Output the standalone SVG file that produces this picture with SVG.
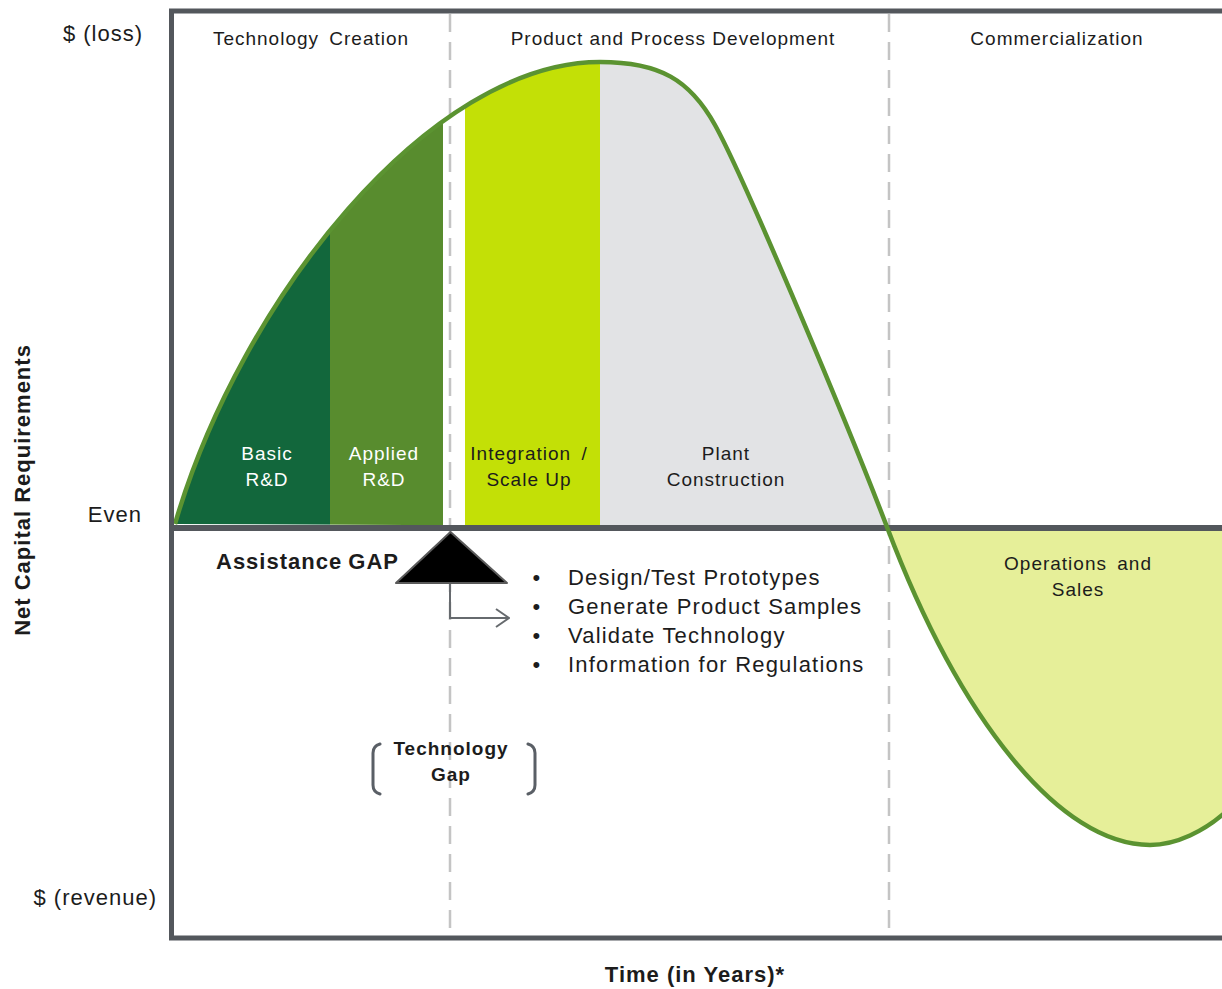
<svg xmlns="http://www.w3.org/2000/svg" width="1222" height="989" viewBox="0 0 1222 989">
  <style>
    .t { font-family: "Liberation Sans", Arial, sans-serif; fill: #1c1c1c; letter-spacing: 1px; }
    .hd { font-size: 19px; text-anchor: middle; }
    .ax { font-size: 22px; }
    .lb { font-size: 19px; text-anchor: middle; }
    .wh { fill: #ffffff; }
    .bl { font-size: 22px; letter-spacing: 1.2px; }
    .bd { font-weight: bold; }
    .dash { stroke: #c4c4c4; stroke-width: 2.5; stroke-dasharray: 18 10; fill: none; }
    .brk { stroke: #5a5f66; stroke-width: 3; fill: none; stroke-linecap: round; }
  </style>
  <defs>
    <clipPath id="upperLobe">
      <path d="M175,524 C240,300 430,62 600,62 C660,62 690,80 715,125 C745,179 850,430 887,527 Z"/>
    </clipPath>
    <marker id="chev" viewBox="0 0 16 22" refX="15" refY="11" markerWidth="16" markerHeight="22" markerUnits="userSpaceOnUse" orient="auto">
      <path d="M2,2 L15,11 L2,20" fill="none" stroke="#666a6e" stroke-width="2"/>
    </marker>
  </defs>

  <rect x="0" y="0" width="1222" height="989" fill="#ffffff"/>

  <!-- phase dividers -->
  <g id="dividers">
    <line class="dash" x1="450" y1="14" x2="450" y2="932"/>
    <line class="dash" x1="889" y1="14" x2="889" y2="932"/>
  </g>

  <!-- stage areas under the capital curve -->
  <g id="stage-basic" clip-path="url(#upperLobe)">
    <rect x="171" y="0" width="159" height="526" fill="#12673c"/>
  </g>
  <g id="stage-applied" clip-path="url(#upperLobe)">
    <rect x="330" y="0" width="113" height="526" fill="#588c2e"/>
  </g>
  <g id="stage-integration" clip-path="url(#upperLobe)">
    <rect x="465" y="0" width="135" height="526" fill="#c3e006"/>
  </g>
  <g id="stage-plant" clip-path="url(#upperLobe)">
    <rect x="600" y="0" width="292" height="526" fill="#e2e3e5"/>
  </g>
  <g id="stage-operations">
    <path d="M887,527 C960,720 1060,845 1150,845 C1175,845 1205,832 1230,808 L1230,527 Z" fill="#e6ef99"/>
  </g>

  <!-- break-even axis -->
  <line x1="171" y1="528" x2="1222" y2="528" stroke="#53575c" stroke-width="6"/>

  <!-- net capital curve -->
  <path d="M175,524 C240,300 430,62 600,62 C660,62 690,80 715,125 C745,179 850,430 887,527 C960,720 1060,845 1150,845 C1175,845 1205,832 1230,808" fill="none" stroke="#5b9331" stroke-width="4.5"/>

  <!-- chart frame -->
  <path d="M1224,11 H171.5 V938 H1224" fill="none" stroke="#53575c" stroke-width="5"/>

  <!-- phase headers -->
  <g id="phase-technology-creation">
    <text class="t hd" x="311" y="45" word-spacing="4">Technology Creation</text>
  </g>
  <g id="phase-product-development">
    <text class="t hd" x="673" y="45">Product and Process Development</text>
  </g>
  <g id="phase-commercialization">
    <text class="t hd" x="1057" y="45">Commercialization</text>
  </g>

  <!-- axis labels -->
  <g id="axis-labels">
    <text class="t ax" x="143" y="41" text-anchor="end">$ (loss)</text>
    <text class="t ax" x="142" y="522" text-anchor="end">Even</text>
    <text class="t ax" x="157" y="905" text-anchor="end">$ (revenue)</text>
    <text class="t ax bd" x="0" y="0" text-anchor="middle" transform="translate(30,490) rotate(-90)">Net Capital Requirements</text>
    <text class="t ax bd" x="695" y="982" text-anchor="middle">Time (in Years)*</text>
  </g>

  <!-- stage labels -->
  <g id="label-basic">
    <text class="t lb wh" x="267" y="460">Basic</text>
    <text class="t lb wh" x="267" y="486">R&amp;D</text>
  </g>
  <g id="label-applied">
    <text class="t lb wh" x="384" y="460">Applied</text>
    <text class="t lb wh" x="384" y="486">R&amp;D</text>
  </g>
  <g id="label-integration">
    <text class="t lb" x="529" y="460" word-spacing="4">Integration /</text>
    <text class="t lb" x="529" y="486">Scale Up</text>
  </g>
  <g id="label-plant">
    <text class="t lb" x="726" y="460">Plant</text>
    <text class="t lb" x="726" y="486">Construction</text>
  </g>
  <g id="label-operations">
    <text class="t lb" x="1078" y="570" word-spacing="4">Operations and</text>
    <text class="t lb" x="1078" y="596">Sales</text>
  </g>

  <!-- assistance gap marker -->
  <g id="assistance-gap">
    <text class="t ax bd" x="216" y="569" word-spacing="-1">Assistance GAP</text>
    <path d="M450.5,532 L396,583 L507,583 Z" fill="#000000" stroke="#5a5a5a" stroke-width="2" stroke-linejoin="round"/>
  </g>

  <g id="connectors">
    <path d="M450,584 V618 H509" fill="none" stroke="#666a6e" stroke-width="2" marker-end="url(#chev)"/>
  </g>

  <!-- gap activities -->
  <g id="activities">
    <text class="t bl" x="537" y="585" text-anchor="middle">•</text>
    <text class="t bl" x="537" y="614" text-anchor="middle">•</text>
    <text class="t bl" x="537" y="643" text-anchor="middle">•</text>
    <text class="t bl" x="537" y="672" text-anchor="middle">•</text>
    <text class="t bl" x="568" y="585">Design/Test Prototypes</text>
    <text class="t bl" x="568" y="614">Generate Product Samples</text>
    <text class="t bl" x="568" y="643">Validate Technology</text>
    <text class="t bl" x="568" y="672">Information for Regulations</text>
  </g>

  <!-- technology gap callout -->
  <g id="technology-gap">
    <path class="brk" d="M380,744 Q373,746 373,753 V785 Q373,792 380,794"/>
    <path class="brk" d="M528,744 Q535,746 535,753 V785 Q535,792 528,794"/>
    <text class="t bd" x="451" y="755" font-size="19" text-anchor="middle">Technology</text>
    <text class="t bd" x="451" y="781" font-size="19" text-anchor="middle">Gap</text>
  </g>
</svg>
